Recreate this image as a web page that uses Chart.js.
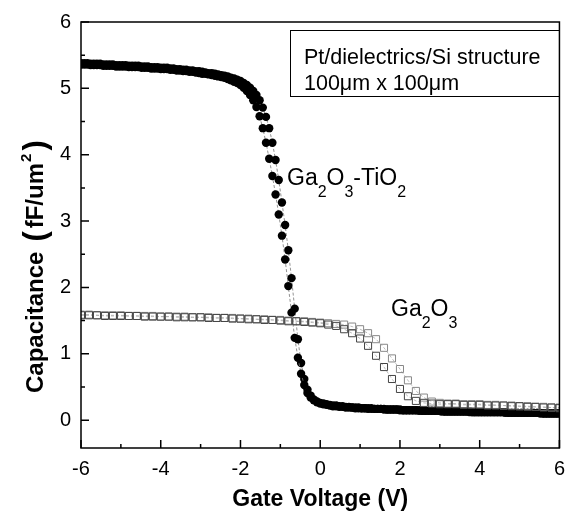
<!DOCTYPE html>
<html>
<head>
<meta charset="utf-8">
<script src="https://cdn.jsdelivr.net/npm/chart.js@4.4.0/dist/chart.umd.min.js"></script>
<style>
  html, body { margin: 0; padding: 0; background: #fff; }
  #wrap { width: 574px; height: 515px; position: relative; }
</style>
</head>
<body>
<div id="wrap"><canvas id="cvChart"></canvas></div>
<script>
// Ga2O3-TiO2 stack, swept in 0.08 V steps (forward and reverse)
const voltsTi = [
  -6.00,-5.92,-5.84,-5.76,-5.68,-5.60,-5.52,-5.44,-5.36,-5.28,
  -5.20,-5.12,-5.04,-4.96,-4.88,-4.80,-4.72,-4.64,-4.56,-4.48,
  -4.40,-4.32,-4.24,-4.16,-4.08,-4.00,-3.92,-3.84,-3.76,-3.68,
  -3.60,-3.52,-3.44,-3.36,-3.28,-3.20,-3.12,-3.04,-2.96,-2.88,
  -2.80,-2.72,-2.64,-2.56,-2.48,-2.40,-2.32,-2.24,-2.16,-2.08,
  -2.00,-1.92,-1.84,-1.76,-1.68,-1.60,-1.52,-1.44,-1.36,-1.28,
  -1.20,-1.12,-1.04,-0.96,-0.88,-0.80,-0.72,-0.64,-0.56,-0.48,
  -0.40,-0.32,-0.24,-0.16,-0.08,0.00,0.08,0.16,0.24,0.32,
  0.40,0.48,0.56,0.64,0.72,0.80,0.88,0.96,1.04,1.12,
  1.20,1.28,1.36,1.44,1.52,1.60,1.68,1.76,1.84,1.92,
  2.00,2.08,2.16,2.24,2.32,2.40,2.48,2.56,2.64,2.72,
  2.80,2.88,2.96,3.04,3.12,3.20,3.28,3.36,3.44,3.52,
  3.60,3.68,3.76,3.84,3.92,4.00,4.08,4.16,4.24,4.32,
  4.40,4.48,4.56,4.64,4.72,4.80,4.88,4.96,5.04,5.12,
  5.20,5.28,5.36,5.44,5.52,5.60,5.68,5.76,5.84,5.92,
  6.00
];
const capTiFwd = [
  5.36,5.36,5.36,5.35,5.35,5.35,5.35,5.34,5.34,5.34,
  5.34,5.33,5.33,5.33,5.33,5.32,5.32,5.32,5.32,5.31,
  5.31,5.31,5.30,5.30,5.30,5.29,5.29,5.29,5.28,5.28,
  5.27,5.27,5.26,5.26,5.25,5.25,5.24,5.23,5.22,5.22,
  5.21,5.20,5.19,5.18,5.17,5.16,5.14,5.12,5.10,5.08,
  5.05,5.01,4.96,4.90,4.82,4.72,4.58,4.40,4.18,3.94,
  3.68,3.40,3.10,2.78,2.42,2.02,1.62,1.24,0.94,0.70,
  0.53,0.41,0.34,0.30,0.27,0.25,0.24,0.23,0.22,0.21,
  0.21,0.20,0.20,0.19,0.19,0.19,0.18,0.18,0.18,0.18,
  0.17,0.17,0.17,0.17,0.17,0.16,0.16,0.16,0.16,0.16,
  0.15,0.15,0.15,0.15,0.15,0.15,0.14,0.14,0.14,0.14,
  0.14,0.14,0.14,0.13,0.13,0.13,0.13,0.13,0.13,0.13,
  0.13,0.13,0.12,0.12,0.12,0.12,0.12,0.12,0.12,0.12,
  0.12,0.12,0.12,0.11,0.11,0.11,0.11,0.11,0.11,0.11,
  0.11,0.11,0.11,0.11,0.10,0.10,0.10,0.10,0.10,0.10,
  0.10
];
const capTiRev = [
  5.38,5.38,5.38,5.37,5.37,5.37,5.37,5.36,5.36,5.36,
  5.36,5.35,5.35,5.35,5.35,5.34,5.34,5.34,5.34,5.33,
  5.33,5.33,5.32,5.32,5.32,5.31,5.31,5.31,5.30,5.30,
  5.29,5.29,5.28,5.28,5.27,5.27,5.26,5.26,5.25,5.24,
  5.23,5.23,5.22,5.21,5.20,5.19,5.18,5.16,5.15,5.13,
  5.11,5.08,5.05,5.01,4.96,4.90,4.82,4.71,4.57,4.40,
  4.18,3.92,3.62,3.28,2.94,2.56,2.14,1.68,1.22,0.86,
  0.62,0.46,0.37,0.31,0.28,0.26,0.25,0.24,0.23,0.22,
  0.22,0.21,0.21,0.20,0.20,0.19,0.19,0.19,0.18,0.18,
  0.18,0.18,0.17,0.17,0.17,0.17,0.16,0.16,0.16,0.16,
  0.16,0.15,0.15,0.15,0.15,0.15,0.15,0.14,0.14,0.14,
  0.14,0.14,0.14,0.14,0.13,0.13,0.13,0.13,0.13,0.13,
  0.13,0.13,0.13,0.12,0.12,0.12,0.12,0.12,0.12,0.12,
  0.12,0.12,0.12,0.12,0.11,0.11,0.11,0.11,0.11,0.11,
  0.11,0.11,0.11,0.11,0.11,0.10,0.10,0.10,0.10,0.10,
  0.10
];

// Ga2O3 single layer, swept in 0.2 V steps
const voltsGa = [
  -6.0,-5.8,-5.6,-5.4,-5.2,-5.0,-4.8,-4.6,-4.4,-4.2,
  -4.0,-3.8,-3.6,-3.4,-3.2,-3.0,-2.8,-2.6,-2.4,-2.2,
  -2.0,-1.8,-1.6,-1.4,-1.2,-1.0,-0.8,-0.6,-0.4,-0.2,
  0.0,0.2,0.4,0.6,0.8,1.0,1.2,1.4,1.6,1.8,
  2.0,2.2,2.4,2.6,2.8,3.0,3.2,3.4,3.6,3.8,
  4.0,4.2,4.4,4.6,4.8,5.0,5.2,5.4,5.6,5.8,
  6.0
];
const capGaFwd = [
  1.58,1.58,1.58,1.57,1.57,1.57,1.57,1.57,1.56,1.56,
  1.56,1.56,1.55,1.55,1.55,1.55,1.54,1.54,1.54,1.53,
  1.53,1.52,1.52,1.51,1.51,1.50,1.49,1.49,1.48,1.47,
  1.46,1.44,1.42,1.37,1.31,1.23,1.12,0.97,0.80,0.62,
  0.47,0.36,0.29,0.26,0.25,0.24,0.24,0.24,0.23,0.23,
  0.23,0.22,0.22,0.22,0.21,0.21,0.20,0.20,0.19,0.19,
  0.18
];
const capGaRev = [
  1.59,1.59,1.58,1.58,1.58,1.58,1.57,1.57,1.57,1.57,
  1.56,1.56,1.56,1.56,1.55,1.55,1.55,1.54,1.54,1.54,
  1.53,1.53,1.52,1.52,1.51,1.51,1.50,1.49,1.49,1.48,
  1.47,1.46,1.45,1.44,1.41,1.37,1.31,1.22,1.09,0.93,
  0.77,0.60,0.44,0.34,0.28,0.26,0.25,0.25,0.24,0.24,
  0.24,0.23,0.23,0.22,0.22,0.21,0.21,0.20,0.20,0.19,
  0.19
];

const xTicks = [-6, -4, -2, 0, 2, 4, 6];
const xMinor = [-5, -3, -1, 1, 3, 5];
const yTicks = [0, 1, 2, 3, 4, 5, 6];
const yMinor = [0.5, 1.5, 2.5, 3.5, 4.5, 5.5];

const FONT = '"Liberation Sans", Arial, Helvetica, sans-serif';

function pts(xs, ys) {
  return xs.map((x, i) => ({ x: x, y: ys[i] }));
}

// draw a row of text pieces (for sub/superscripts)
function drawRuns(ctx, x, y, runs) {
  runs.forEach(r => {
    x += r.pre || 0;
    ctx.font = (r.bold ? 'bold ' : '') + r.size + 'px ' + FONT;
    ctx.fillText(r.t, x, y + (r.dy || 0));
    x += ctx.measureText(r.t).width + (r.gap || 0);
  });
  return x;
}

const decorations = {
  id: 'decorations',
  afterDatasetsDraw(chart) {
    const { ctx, chartArea: a, scales: { x, y } } = chart;
    ctx.save();
    ctx.strokeStyle = '#000';
    ctx.lineWidth = 1.5;
    ctx.strokeRect(a.left, a.top, a.right - a.left, a.bottom - a.top);

    // ticks pointing inward
    ctx.beginPath();
    xTicks.forEach(v => { const p = x.getPixelForValue(v); ctx.moveTo(p, a.bottom); ctx.lineTo(p, a.bottom - 8); });
    xMinor.forEach(v => { const p = x.getPixelForValue(v); ctx.moveTo(p, a.bottom); ctx.lineTo(p, a.bottom - 4); });
    yTicks.forEach(v => { const p = y.getPixelForValue(v); ctx.moveTo(a.left, p); ctx.lineTo(a.left + 8, p); });
    yMinor.forEach(v => { const p = y.getPixelForValue(v); ctx.moveTo(a.left, p); ctx.lineTo(a.left + 4, p); });
    ctx.stroke();

    ctx.fillStyle = '#000';
    ctx.textBaseline = 'alphabetic';
    ctx.textAlign = 'left';

    // x title
    ctx.font = 'bold 23px ' + FONT;
    ctx.textAlign = 'center';
    ctx.fillText('Gate Voltage (V)', (a.left + a.right) / 2, 506);
    ctx.textAlign = 'left';

    // y title
    ctx.save();
    ctx.translate(43, 393);
    ctx.rotate(-Math.PI / 2);
    drawRuns(ctx, 0, 0, [
      { t: 'Capacitance', size: 24, bold: true },
      { t: '(', size: 31, bold: true, dy: 2, pre: 10, gap: 3 },
      { t: 'fF/um', size: 24, bold: true, gap: 1 },
      { t: '2', size: 15, bold: true, dy: -12, gap: 3 },
      { t: ')', size: 31, bold: true, dy: 2 }
    ]);
    ctx.restore();

    // info box
    ctx.lineWidth = 1;
    ctx.strokeRect(290.5, 30.5, 269, 66);
    ctx.font = '21.5px ' + FONT;
    ctx.fillText('Pt/dielectrics/Si structure', 304, 64);
    ctx.fillText('100\u03bcm x 100\u03bcm', 304, 90);

    // curve labels
    drawRuns(ctx, 287, 185, [
      { t: 'Ga', size: 23 },
      { t: '2', size: 16, dy: 12 },
      { t: 'O', size: 23 },
      { t: '3', size: 16, dy: 12 },
      { t: '-TiO', size: 23 },
      { t: '2', size: 16, dy: 12 }
    ]);
    drawRuns(ctx, 391, 316, [
      { t: 'Ga', size: 23 },
      { t: '2', size: 16, dy: 12 },
      { t: 'O', size: 23 },
      { t: '3', size: 16, dy: 12 }
    ]);
    ctx.restore();
  }
};

const dashLine = { showLine: true, borderWidth: 0.8, borderDash: [3, 2], tension: 0 };

const config = {
  type: 'scatter',
  data: {
    datasets: [
      Object.assign({
        label: 'Ga2O3 fwd', data: pts(voltsGa, capGaFwd),
        pointStyle: 'rect', pointRadius: 5, pointBorderWidth: 1,
        pointBorderColor: '#444', pointBackgroundColor: 'rgba(0,0,0,0)',
        borderColor: '#aaa'
      }, dashLine),
      Object.assign({
        label: 'Ga2O3 rev', data: pts(voltsGa, capGaRev),
        pointStyle: 'rect', pointRadius: 5, pointBorderWidth: 1,
        pointBorderColor: '#888', pointBackgroundColor: 'rgba(0,0,0,0)',
        borderColor: '#aaa'
      }, dashLine),
      Object.assign({
        label: 'Ga2O3-TiO2 fwd', data: pts(voltsTi, capTiFwd),
        pointStyle: 'circle', pointRadius: 4.2, pointBorderWidth: 0,
        pointBackgroundColor: '#000', borderColor: '#777'
      }, dashLine),
      Object.assign({
        label: 'Ga2O3-TiO2 rev', data: pts(voltsTi, capTiRev),
        pointStyle: 'circle', pointRadius: 4.2, pointBorderWidth: 0,
        pointBackgroundColor: '#000', borderColor: '#777'
      }, dashLine)
    ]
  },
  options: {
    responsive: true,
    maintainAspectRatio: false,
    animation: false,
    layout: { padding: { top: 20, right: 8, left: 0, bottom: 0 } },
    plugins: { legend: { display: false }, tooltip: { enabled: false } },
    scales: {
      x: {
        type: 'linear', min: -6, max: 6,
        afterBuildTicks: s => { s.ticks = xTicks.map(v => ({ value: v })); },
        afterFit: s => { s.height = 67; },
        grid: { display: false, drawTicks: false },
        border: { display: false },
        ticks: { color: '#000', padding: 9, maxRotation: 0, font: { family: FONT, size: 20 } }
      },
      y: {
        type: 'linear', min: -0.42, max: 6,
        afterBuildTicks: s => { s.ticks = yTicks.map(v => ({ value: v })); },
        afterFit: s => { s.width = 81; },
        grid: { display: false, drawTicks: false },
        border: { display: false },
        ticks: { color: '#000', padding: 10, font: { family: FONT, size: 20 } }
      }
    }
  },
  plugins: [decorations]
};

const myChart = new Chart(document.getElementById('cvChart'), config);
</script>
</body>
</html>
